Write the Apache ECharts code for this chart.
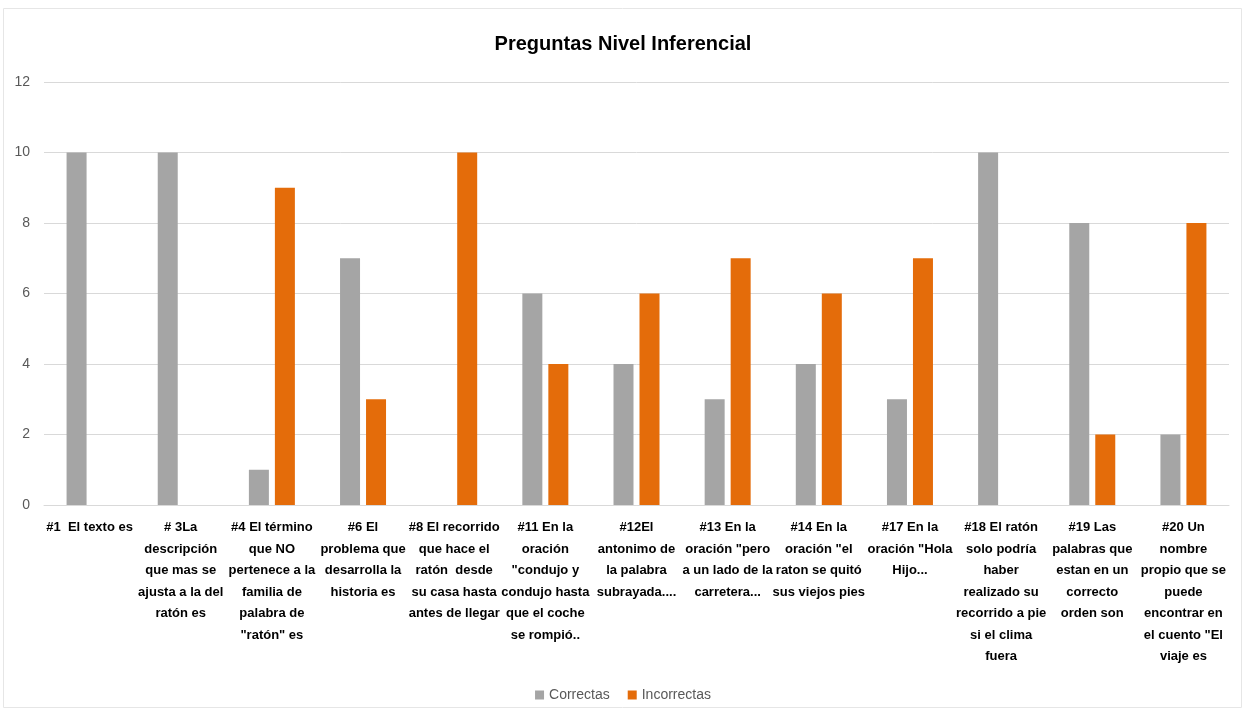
<!DOCTYPE html>
<html>
<head>
<meta charset="utf-8">
<script src="https://cdn.jsdelivr.net/npm/echarts@6/dist/echarts.min.js"></script>
<style>html,body{margin:0;padding:0;background:#fff}#c{width:1246px;height:708px}</style>
</head>
<body>
<div id="c"></div>
<script>
var categories = [
  "#1  El texto es",
  "# 3La\ndescripción\nque mas se\najusta a la del\nratón es",
  "#4 El término\nque NO\npertenece a la\nfamilia de\npalabra de\n\"ratón\" es",
  "#6 El\nproblema que\ndesarrolla la\nhistoria es",
  "#8 El recorrido\nque hace el\nratón  desde\nsu casa hasta\nantes de llegar",
  "#11 En la\noración\n\"condujo y\ncondujo hasta\nque el coche\nse rompió..",
  "#12El\nantonimo de\nla palabra\nsubrayada....",
  "#13 En la\noración \"pero\na un lado de la\ncarretera...",
  "#14 En la\noración \"el\nraton se quitó\nsus viejos pies",
  "#17 En la\noración \"Hola\nHijo...",
  "#18 El ratón\nsolo podría\nhaber\nrealizado su\nrecorrido a pie\nsi el clima\nfuera",
  "#19 Las\npalabras que\nestan en un\ncorrecto\norden son",
  "#20 Un\nnombre\npropio que se\npuede\nencontrar en\nel cuento \"El\nviaje es"
];
var correctas = [10, 10, 1, 7, 0, 6, 4, 3, 4, 3, 10, 8, 2];
var incorrectas = [0, 0, 9, 3, 10, 4, 6, 7, 6, 7, 0, 2, 8];
var yTicks = { min: 0, max: 12, interval: 2 };

var FONT = "'Liberation Sans', Arial, sans-serif";
var chart = echarts.init(document.getElementById('c'), null, { renderer: 'canvas' });
chart.setOption({
  animation: false,
  backgroundColor: '#fff',
  title: {
    text: 'Preguntas Nivel Inferencial',
    left: 'center',
    top: 29,
    textStyle: { fontFamily: FONT, fontSize: 20, fontWeight: 'bold', color: '#000' }
  },
  legend: {
    bottom: 1,
    left: 'center',
    itemWidth: 9,
    itemHeight: 9,
    itemGap: 18,
    icon: 'rect',
    textStyle: { fontFamily: FONT, fontSize: 14, color: '#595959' },
    data: ['Correctas', 'Incorrectas']
  },
  grid: { left: 44, right: 17, top: 82, bottom: 203, containLabel: false },
  xAxis: {
    type: 'category',
    data: categories,
    axisLine: { show: true, lineStyle: { color: '#D9D9D9' } },
    axisTick: { show: false },
    axisLabel: {
      interval: 0,
      margin: 12,
      fontFamily: FONT,
      fontSize: 13,
      fontWeight: 'bold',
      color: '#000',
      lineHeight: 21.5,
      align: 'center'
    }
  },
  yAxis: {
    type: 'value',
    min: yTicks.min,
    max: yTicks.max,
    interval: yTicks.interval,
    axisLine: { show: false },
    axisTick: { show: false },
    axisLabel: { fontFamily: FONT, fontSize: 14, color: '#595959', margin: 14 },
    splitLine: { lineStyle: { color: '#D9D9D9', width: 1 } }
  },
  series: [
    { name: 'Correctas', type: 'bar', data: correctas, barWidth: 20, barGap: '30%', itemStyle: { color: '#A5A5A5' } },
    { name: 'Incorrectas', type: 'bar', data: incorrectas, barWidth: 20, barGap: '30%', itemStyle: { color: '#E46C0A' } }
  ],
  graphic: [{
    type: 'rect', silent: true, z: -1,
    shape: { x: 3.5, y: 8.5, width: 1238, height: 699 },
    style: { fill: 'none', stroke: '#E6E6E6', lineWidth: 1 }
  }]
});
</script>
</body>
</html>
